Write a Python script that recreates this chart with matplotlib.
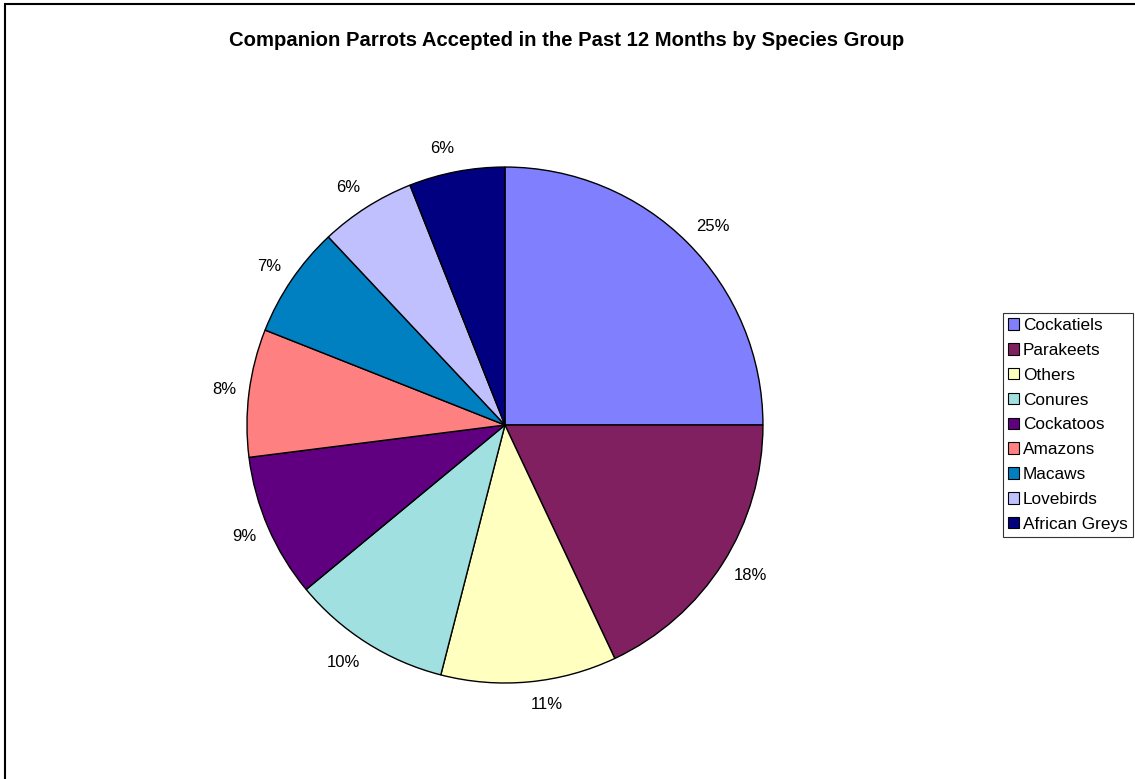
import numpy as np
import matplotlib.pyplot as plt
from matplotlib.patches import Patch, Rectangle

plt.rcParams['font.family'] = ['Liberation Sans', 'DejaVu Sans']

# species groups and share of parrots accepted (%)
species = ['Cockatiels', 'Parakeets', 'Others', 'Conures', 'Cockatoos',
           'Amazons', 'Macaws', 'Lovebirds', 'African Greys']
shares = [25, 18, 11, 10, 9, 8, 7, 6, 6]
colors = ['#8080FF', '#802060', '#FFFFC0', '#A0E0E0', '#600080',
          '#FF8080', '#0080C0', '#C0C0FF', '#000080']

fig = plt.figure(figsize=(11.35, 7.79), dpi=100)

# outer chart frame (left and top edges visible)
fig.add_artist(Rectangle((5 / 1135, -0.01), 1.1, (779 - 4) / 779 + 0.01,
                         transform=fig.transFigure, fill=False,
                         edgecolor='black', linewidth=1.5))

ax = fig.add_axes([0.2176, 0.1232, 0.4546, 0.6624])
wedges, texts = ax.pie(shares, colors=colors, startangle=90, counterclock=False,
                       labels=[f'{s}%' for s in shares], labeldistance=1.1,
                       wedgeprops=dict(edgecolor='black', linewidth=1.0),
                       textprops=dict(fontsize=12, color='black'))

# nudge labels: a bit tighter sideways, a bit looser vertically
for w, t in zip(wedges, texts):
    mid = np.deg2rad((w.theta1 + w.theta2) / 2)
    t.set_position((1.05 * np.cos(mid), 1.09 * np.sin(mid)))

ax.set_xlim(-1, 1)
ax.set_ylim(-1, 1)
ax.set_aspect('equal')
ax.axis('off')

fig.text(0.4995, 1 - 41 / 779, 'Companion Parrots Accepted in the Past 12 Months by Species Group',
         ha='center', va='center', fontsize=14.6, fontweight='bold')

handles = [Patch(facecolor=c, edgecolor='black', linewidth=0.8) for c in colors]
leg = fig.legend(handles, species, loc='upper left',
                 bbox_to_anchor=(1003 / 1135, 1 - 313 / 779),
                 fontsize=12.4, frameon=True, fancybox=False,
                 handlelength=0.65, handleheight=0.65, handletextpad=0.2,
                 labelspacing=0.57, borderpad=0.3, borderaxespad=0)
leg.get_frame().set_edgecolor('black')
leg.get_frame().set_linewidth(0.8)

fig.savefig('out.png', dpi=100)
